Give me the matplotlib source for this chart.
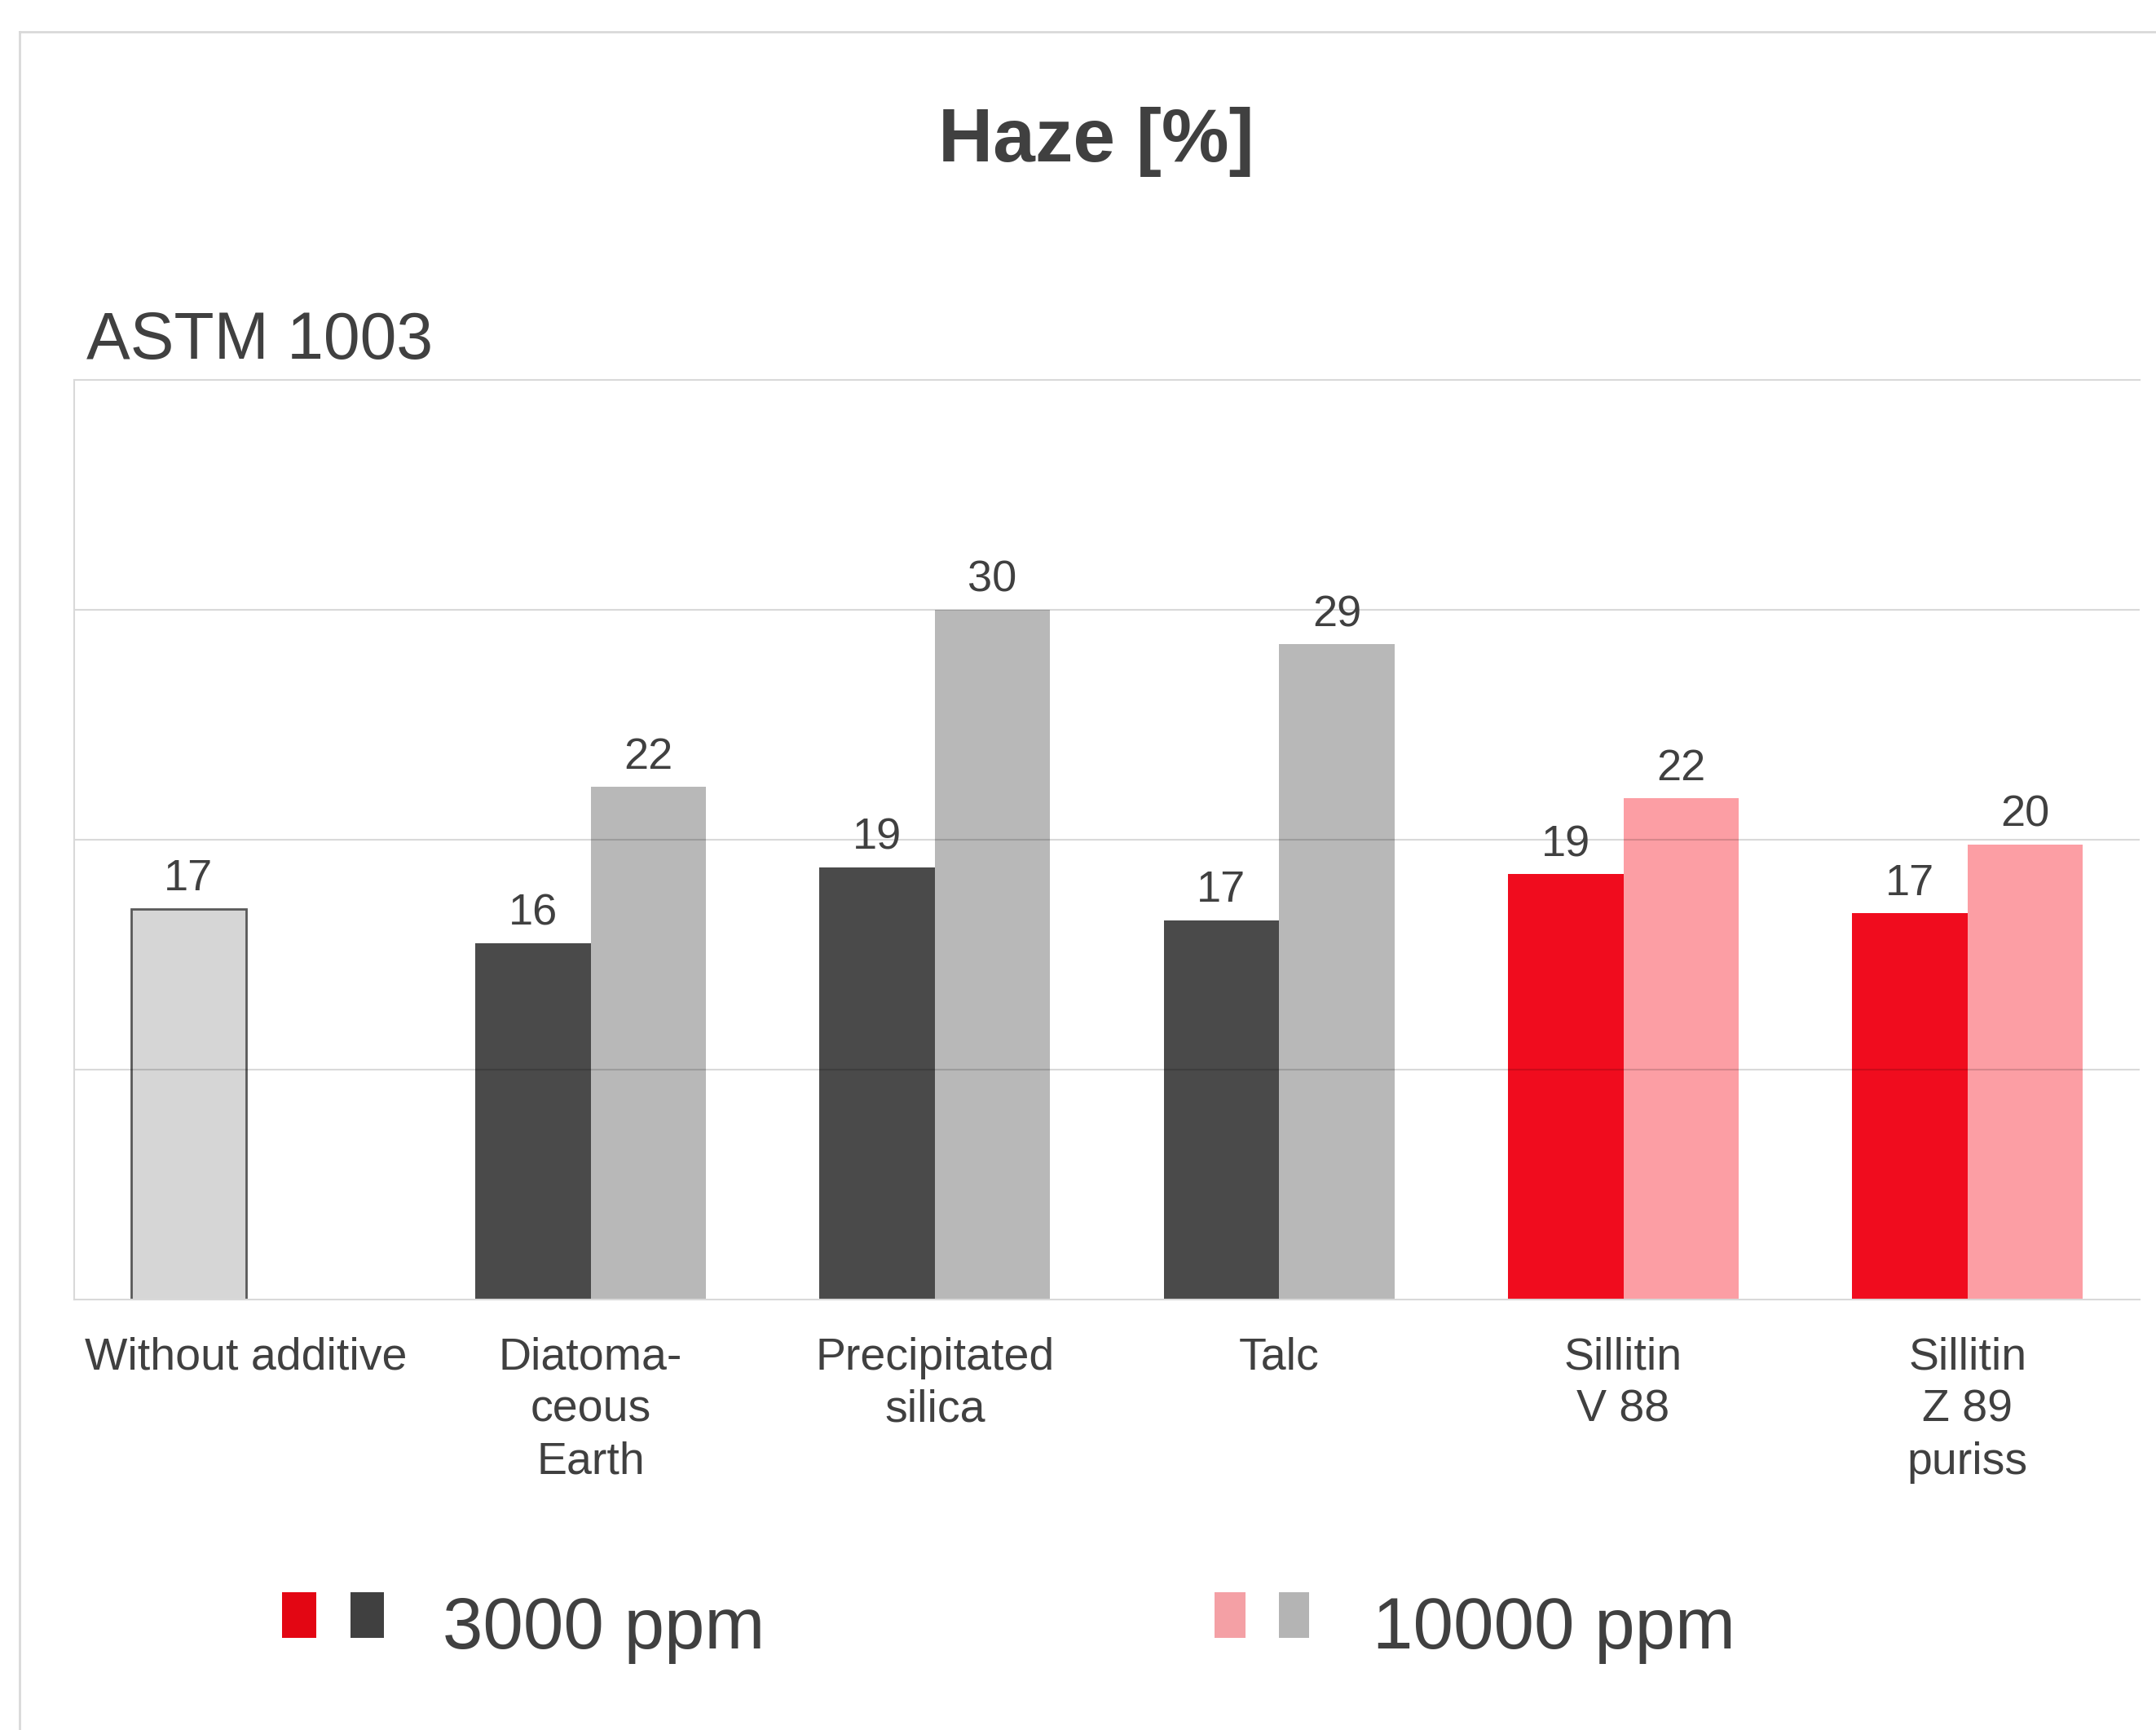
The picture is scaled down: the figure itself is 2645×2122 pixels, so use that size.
import numpy as np
import matplotlib
matplotlib.use('Agg')
import matplotlib.pyplot as plt
from matplotlib.lines import Line2D
from matplotlib.patches import Rectangle

plt.rcParams['font.family'] = ['Liberation Sans', 'DejaVu Sans']

# Data
categories = ['Without additive', 'Diatoma-\nceous\nEarth', 'Precipitated\nsilica',
              'Talc', 'Sillitin\nV 88', 'Sillitin\nZ 89\npuriss']
haze_3000 = [17.0, 15.5, 18.8, 16.5, 18.5, 16.8]
haze_10000 = [None, 22.3, 30.0, 28.5, 21.8, 19.8]
y_ticks = [0, 10, 20, 30, 40]

# Colours
txt = '#404040'
col_3000 = ['#d6d6d6', '#4a4a4a', '#4a4a4a', '#4a4a4a', '#f00c1e', '#f00c1e']
col_10000 = [None, '#b8b8b8', '#b8b8b8', '#b8b8b8', '#fc9ea4', '#fc9ea4']
grid_col = '#d9d9d9'

W, H = 2645, 2122
fig = plt.figure(figsize=(W / 100, H / 100), dpi=100)
ax = fig.add_axes([91 / W, 1 - 1594 / H, (2625 - 91) / W, (1594 - 466) / H])

x = np.arange(len(categories))
bw = 0.335

for i in range(len(categories)):
    v = haze_3000[i]
    if haze_10000[i] is None:
        ax.bar(x[i] - bw / 2, v, bw, color=col_3000[i], edgecolor='#595959', linewidth=2, zorder=1)
    else:
        ax.bar(x[i] - bw / 2, v, bw, color=col_3000[i], linewidth=0, zorder=1)
    ax.annotate(str(int(v + 0.5)), (x[i] - bw / 2, v), xytext=(0, 16), textcoords='offset points',
                ha='center', va='baseline', fontsize=39, color=txt)
    v2 = haze_10000[i]
    if v2 is not None:
        ax.bar(x[i] + bw / 2, v2, bw, color=col_10000[i], linewidth=0, zorder=1)
        ax.annotate(str(int(v2 + 0.5)), (x[i] + bw / 2, v2), xytext=(0, 16), textcoords='offset points',
                    ha='center', va='baseline', fontsize=39, color=txt)

ax.set_xlim(-0.5, len(categories) - 0.5)
ax.set_ylim(y_ticks[0], y_ticks[-1])
ax.set_yticks(y_ticks)
ax.set_yticklabels([])
ax.tick_params(axis='y', length=0)
ax.set_xticks(x)
ax.set_xticklabels(categories, fontsize=40, color=txt, linespacing=1.3)
ax.tick_params(axis='x', length=0, pad=33)

# gridlines drawn over the bars, slightly transparent
for yv in y_ticks[1:-1]:
    ax.axhline(yv, color='black', alpha=0.15, linewidth=1.5, zorder=2)

for s in ['left', 'top', 'bottom']:
    ax.spines[s].set_color(grid_col)
    ax.spines[s].set_linewidth(1.5)
ax.spines['right'].set_visible(False)

# Titles
fig.text(1345 / W, 1 - 198 / H, 'Haze [%]', fontsize=67, fontweight='bold',
         color=txt, ha='center', va='baseline')
fig.text(106 / W, 1 - 440 / H, 'ASTM 1003', fontsize=58, color=txt, ha='left', va='baseline')

# Outer frame (only top and left edges visible)
fig.add_artist(Line2D([24 / W, 24 / W], [0, 1 - 39 / H], transform=fig.transFigure,
                      color=grid_col, linewidth=2))
fig.add_artist(Line2D([24 / W, 1], [1 - 39 / H, 1 - 39 / H], transform=fig.transFigure,
                      color=grid_col, linewidth=2))

# Legend
leg_y0, leg_h = 1 - 2009 / H, 56 / H
swatches = [(346, 42, '#e30613'), (430, 41, '#404040'), (1490, 38, '#f4a0a5'), (1569, 37, '#b4b4b4')]
for x0, w, c in swatches:
    fig.add_artist(Rectangle((x0 / W, leg_y0), w / W, leg_h, transform=fig.transFigure,
                             facecolor=c, edgecolor='none'))
fig.text(543 / W, 1 - 2022 / H, '3000 ppm', fontsize=64, color=txt, ha='left', va='baseline')
fig.text(1684 / W, 1 - 2022 / H, '10000 ppm', fontsize=64, color=txt, ha='left', va='baseline')

fig.savefig('out.png', dpi=100, facecolor='white')
